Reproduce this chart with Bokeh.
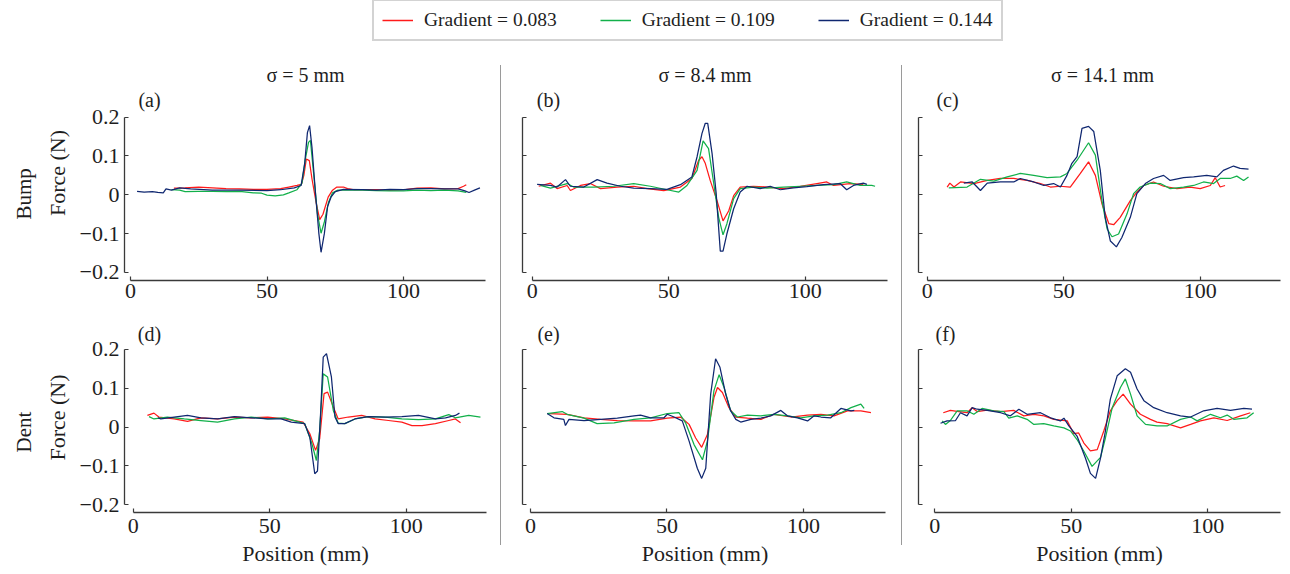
from bokeh.plotting import figure
from bokeh.models import Range1d, FixedTicker, Label, Title, Legend, LegendItem, Div
from bokeh.layouts import row, column
from bokeh.embed import file_html
from bokeh.resources import INLINE

# ---------------- data ----------------
gradients = ["Gradient = 0.083", "Gradient = 0.109", "Gradient = 0.144"]
sigma_titles = ["σ = 5 mm", "σ = 8.4 mm", "σ = 14.1 mm"]
row_names = ["Bump", "Dent"]
panel_letters = [["(a)", "(b)", "(c)"], ["(d)", "(e)", "(f)"]]
x_ticks = [0, 50, 100]
x_tick_labels = ["0", "50", "100"]
y_ticks = [-0.2, -0.1, 0, 0.1, 0.2]
y_tick_labels = ["−0.2", "−0.1", "0", "0.1", "0.2"]

a_red = [(15.9,0.017),(20,0.018),(25,0.02),(30,0.018),(35,0.016),(40,0.015),(45,0.014),(50,0.014),(55,0.016),(58,0.02),(61,0.024),(62.6,0.027),(63.5,0.05),(64.4,0.092),(65.5,0.088),(66.5,0.04),(68,-0.02),(69.3,-0.064),(70.5,-0.05),(72.4,-0.006),(74,0.012),(75.6,0.02),(78,0.02),(79.5,0.016),(82,0.013),(90,0.013),(95,0.012),(100,0.013),(105,0.017),(110,0.018),(115,0.015),(120,0.016),(122,0.022),(123,0.026)]
a_green = [(15,0.013),(18,0.012),(20,0.008),(25,0.009),(30,0.009),(35,0.008),(40,0.009),(45,0.005),(48,0.004),(50,-0.001),(53,-0.003),(56,0.0),(58,0.005),(61,0.013),(62.8,0.03),(64,0.09),(65.2,0.135),(65.9,0.14),(67,0.06),(68.5,-0.05),(69.8,-0.099),(71,-0.07),(72.5,-0.02),(74,0.005),(76,0.012),(80,0.012),(85,0.012),(90,0.011),(95,0.01),(100,0.01),(105,0.012),(110,0.011),(115,0.012),(120,0.01),(123,0.006)]
a_blue = [(2.4,0.009),(5,0.007),(8,0.008),(10,0.006),(12,0.005),(13,0.015),(15,0.012),(18,0.018),(22,0.015),(30,0.012),(40,0.012),(50,0.011),(55,0.013),(60,0.018),(62.5,0.024),(63.8,0.08),(64.8,0.16),(65.6,0.178),(66.5,0.12),(67.8,0.0),(69,-0.1),(69.8,-0.148),(71,-0.1),(72.2,-0.03),(73.5,-0.005),(75,0.008),(78,0.014),(85,0.013),(90,0.012),(95,0.014),(100,0.013),(105,0.016),(110,0.016),(115,0.015),(120,0.015),(122.5,0.01),(124,0.006),(126,0.012),(128,0.018)]

b_red = [(2.4,0.022),(6.7,0.03),(9.1,0.016),(12.8,0.024),(14,0.011),(17.7,0.024),(21.3,0.029),(25,0.016),(31.1,0.02),(37.2,0.022),(42.1,0.016),(48.2,0.011),(54.3,0.02),(58.5,0.042),(61,0.089),(62.2,0.098),(63.4,0.081),(65.2,0.037),(67.7,-0.015),(69.9,-0.067),(72,-0.041),(73.8,-0.002),(76.2,0.02),(81.1,0.022),(86,0.02),(92.1,0.016),(98.2,0.022),(104.3,0.029),(107.9,0.033),(110.4,0.024),(116.5,0.029),(121.3,0.027)]
b_green = [(3,0.024),(6.7,0.017),(12.8,0.029),(15.2,0.02),(22.6,0.02),(29.9,0.022),(37.2,0.029),(43.3,0.022),(49.4,0.013),(53.7,0.007),(56.7,0.024),(60.4,0.063),(62.6,0.139),(64.6,0.119),(66.5,0.029),(68.3,-0.058),(69.9,-0.103),(71.3,-0.075),(73.8,-0.01),(76.2,0.016),(81.1,0.02),(86,0.017),(92.1,0.02),(98.2,0.022),(104.3,0.024),(110.4,0.026),(115.2,0.033),(120.1,0.024),(124.4,0.024),(125.6,0.022)]
b_blue = [(1.8,0.027),(6.7,0.024),(9.1,0.02),(12.2,0.039),(14,0.022),(18.9,0.02),(23.8,0.039),(27.4,0.03),(32.3,0.022),(37.2,0.017),(43.3,0.016),(49.4,0.014),(54.3,0.026),(58.5,0.046),(60.4,0.098),(62.2,0.158),(63.4,0.184),(64.3,0.184),(65.9,0.106),(67.4,0.003),(68.9,-0.145),(69.9,-0.145),(71.3,-0.101),(73.8,-0.036),(76.2,0.007),(78.7,0.022),(83.5,0.016),(87.2,0.022),(90.9,0.013),(95.7,0.018),(100.6,0.021),(106.7,0.026),(112.8,0.029),(115.2,0.013),(117.7,0.024),(121.3,0.03),(122.6,0.027)]

c_red = [(7.3,0.02),(8.3,0.03),(9.8,0.02),(12.2,0.033),(17.1,0.029),(22,0.037),(26.8,0.042),(31.7,0.042),(36.6,0.037),(41.5,0.029),(45.1,0.02),(48.8,0.022),(52.4,0.02),(56.1,0.055),(59.1,0.085),(61.6,0.05),(64,-0.023),(66.5,-0.074),(68.3,-0.077),(70.7,-0.058),(74.4,-0.015),(76.8,0.007),(79.3,0.024),(82.9,0.033),(86.6,0.022),(91.5,0.016),(96.3,0.02),(100,0.016),(103.7,0.024),(105.5,0.044),(107.3,0.02),(109.1,0.024)]
c_green = [(7.9,0.018),(14.6,0.02),(19.5,0.04),(24.4,0.035),(29.3,0.046),(34.1,0.055),(39,0.05),(43.9,0.044),(48.8,0.046),(51.2,0.055),(54.9,0.089),(59.1,0.134),(61.6,0.102),(64,-0.015),(65.9,-0.088),(67.7,-0.108),(70.1,-0.101),(73.2,-0.049),(75.6,0.003),(78,0.02),(81.7,0.03),(85.4,0.029),(89,0.016),(93.9,0.02),(97.6,0.024),(101.2,0.033),(104.9,0.029),(107.3,0.042),(111,0.042),(113.4,0.048),(115.9,0.037),(117.7,0.046)]
c_blue = [(13.4,0.03),(16.5,0.033),(19.5,0.011),(22,0.03),(26.8,0.033),(31.7,0.033),(34.1,0.042),(39,0.033),(42.7,0.024),(46.3,0.029),(48.8,0.02),(51.2,0.05),(53,0.081),(54.9,0.098),(56.7,0.171),(59.1,0.176),(61,0.163),(63.4,0.063),(65.2,-0.058),(67.1,-0.119),(69.3,-0.134),(71.3,-0.11),(74.4,-0.058),(76.8,0.003),(79.9,0.029),(82.9,0.042),(86.6,0.05),(89,0.037),(93.9,0.044),(97.6,0.046),(102.4,0.05),(106.1,0.046),(108.5,0.063),(112.2,0.074),(114.6,0.068),(117.7,0.066)]

d_red = [(5.2,0.03),(7.6,0.036),(9.4,0.026),(15,0.021),(19.9,0.015),(24.8,0.024),(30.9,0.021),(37.1,0.026),(43.2,0.024),(49.3,0.026),(55.5,0.021),(62.2,0.013),(64.7,-0.017),(66.8,-0.06),(68.3,-0.03),(69.9,0.086),(71.2,0.09),(73.3,0.052),(75.1,0.021),(78.8,0.026),(83.7,0.03),(88.6,0.021),(93.5,0.017),(98.4,0.013),(102.1,0.004),(105.8,0.004),(110.7,0.009),(115.6,0.017),(118,0.021),(119.9,0.011)]
d_green = [(5.8,0.027),(7.6,0.021),(12.5,0.026),(18.7,0.021),(24.8,0.017),(30.9,0.013),(37.1,0.021),(43.2,0.026),(49.3,0.021),(55.5,0.024),(62.8,0.009),(65.3,-0.039),(67.1,-0.086),(68.3,-0.009),(69.6,0.137),(71.2,0.129),(73.3,0.043),(75.1,0.01),(77.5,0.009),(81.2,0.021),(86.1,0.027),(92.3,0.026),(98.4,0.021),(104.5,0.019),(110.7,0.021),(115.6,0.032),(118,0.024),(122.9,0.03),(127.2,0.026)]
d_blue = [(9,0.024),(10.1,0.021),(19.9,0.03),(24.8,0.024),(30.9,0.021),(37.1,0.027),(43.2,0.024),(49.3,0.021),(54.2,0.021),(57.9,0.013),(62.8,0.009),(64.7,-0.026),(66.5,-0.12),(67.5,-0.113),(68.7,0.043),(69.6,0.18),(70.8,0.189),(72.6,0.129),(73.9,0.026),(75.1,0.009),(77.5,0.009),(81.2,0.021),(86.1,0.027),(92.3,0.026),(98.4,0.027),(104.5,0.03),(110.7,0.021),(114.4,0.024),(118,0.03),(119.5,0.036)]

e_red = [(7,0.035),(13.4,0.033),(19.6,0.024),(25.7,0.02),(31.8,0.017),(37.9,0.016),(44,0.016),(50.1,0.023),(55,0.026),(58.1,0.007),(60.5,-0.028),(62.7,-0.052),(64.8,-0.019),(67.2,0.076),(68.5,0.102),(70.3,0.089),(72.7,0.05),(75.2,0.026),(79.5,0.023),(84.4,0.02),(89.2,0.033),(95.4,0.026),(101.5,0.031),(106.4,0.033),(111.2,0.029),(116.1,0.042),(121,0.042),(124.7,0.037)]
e_green = [(6.1,0.035),(11.6,0.04),(13.4,0.033),(19.6,0.023),(24.4,0.009),(30.6,0.011),(37.9,0.02),(44,0.024),(50.1,0.035),(54.4,0.037),(56.8,0.011),(59.9,-0.045),(63,-0.084),(64.8,-0.036),(67.2,0.094),(69.1,0.135),(70.9,0.102),(73.3,0.042),(75.8,0.026),(79.5,0.031),(84.4,0.029),(89.2,0.033),(94.1,0.029),(99,0.024),(103.9,0.029),(108.8,0.031),(113.7,0.037),(117.4,0.05),(121,0.059),(122.2,0.048)]
e_blue = [(6.1,0.035),(8.6,0.024),(12.2,0.02),(12.8,0.004),(14.1,0.02),(19.6,0.017),(25.7,0.02),(31.8,0.023),(37.9,0.029),(40.3,0.031),(44,0.024),(48.9,0.024),(50.1,0.033),(52.6,0.026),(55.6,0.016),(58.1,-0.036),(61.1,-0.106),(62.7,-0.132),(64.2,-0.106),(66,0.085),(67.8,0.176),(69.4,0.154),(71.5,0.085),(73.3,0.042),(75.2,0.02),(77,0.013),(80.7,0.02),(84.4,0.023),(88,0.029),(91.7,0.043),(94.1,0.029),(97.8,0.024),(101.5,0.016),(103.9,0.029),(106.4,0.026),(110,0.024),(113.7,0.048),(117.4,0.042),(118.6,0.043)]

f_red = [(3.1,0.037),(5.7,0.043),(8.8,0.04),(11.8,0.037),(13.7,0.05),(15.5,0.04),(19.2,0.044),(24.1,0.04),(28.9,0.043),(32.6,0.029),(36.3,0.033),(40,0.029),(43.6,0.02),(48.5,0.016),(50.9,-0.017),(52.7,-0.015),(54.6,-0.041),(57,-0.061),(59.5,-0.058),(61.9,-0.01),(64.3,0.042),(66.8,0.068),(69,0.085),(71.7,0.059),(75.3,0.033),(79,0.02),(81.4,0.013),(85.1,0.009),(90,-0.002),(93.7,0.007),(97.3,0.016),(102.2,0.024),(107.1,0.017),(112,0.029),(115.6,0.037)]
f_green = [(2.7,0.016),(3.9,0.007),(5.7,0.017),(8.2,0.042),(11.8,0.042),(14.3,0.033),(17.3,0.048),(21.6,0.042),(25.3,0.04),(27.1,0.023),(30.2,0.029),(33.8,0.02),(36.3,0.007),(39.9,0.009),(43.6,0.003),(47.3,-0.002),(49.7,-0.01),(52.1,-0.032),(54.6,-0.062),(57.6,-0.101),(60.7,-0.078),(62.5,-0.028),(65,0.05),(68,0.102),(69.8,0.124),(71.7,0.085),(74.1,0.029),(77.2,0.007),(81.4,0.003),(85.1,0.003),(90,0.02),(93.7,0.026),(96.1,0.016),(101,0.033),(104.6,0.024),(107.1,0.031),(109.5,0.02),(114.4,0.024),(116.8,0.037)]
f_blue = [(2.1,0.01),(4.5,0.016),(7.6,0.017),(9.4,0.037),(11.8,0.029),(13.7,0.05),(15.5,0.046),(19.2,0.043),(24.1,0.037),(27.7,0.029),(30.8,0.046),(33.8,0.033),(38.7,0.037),(42.4,0.024),(46,0.016),(47.3,0.023),(49.1,0.003),(52.1,-0.023),(55.2,-0.08),(57,-0.119),(58.9,-0.132),(60.7,-0.08),(62.5,-0.01),(64.3,0.072),(66.8,0.132),(69.8,0.15),(71.7,0.141),(74.1,0.098),(76.6,0.068),(80.2,0.05),(85.1,0.037),(90,0.029),(93.7,0.026),(98.5,0.042),(103.4,0.048),(108.3,0.043),(113.2,0.048),(116.2,0.046)]

panels = [[(a_red, a_green, a_blue), (b_red, b_green, b_blue), (c_red, c_green, c_blue)],
          [(d_red, d_green, d_blue), (e_red, e_green, e_blue), (f_red, f_green, f_blue)]]

# ---------------- style / layout ----------------
SERIF = "Liberation Serif"
COLORS = ["#ff1a1a", "#12b04a", "#0f2770"]
AXIS_COLOR = "#3a3a3a"
TEXT_COLOR = "#1e1e1e"
PX_PER_MM = 2.73
PX_PER_N = 388.5
col_cfg = [dict(width=500, left=124, frame=362, title_dx=0, letter_dx=[25, 25]),
           dict(width=400, left=21, frame=365, title_dx=0, letter_dx=[26, 26]),
           dict(width=380, left=16, frame=362, title_dx=3, letter_dx=[29, 27])]
row_cfg = [dict(height=257, frame=215, y0=-0.2206, letter_dy=34, tick_standoff=3),
           dict(height=250, frame=190, y0=-0.2198, letter_dy=11, tick_standoff=6)]
x_starts = [[-2.2, -3.55, -3.19], [-3.19, -2.93, -5.97]]


def make_panel(r, c):
    cc, rc = col_cfg[c], row_cfg[r]
    xs = x_starts[r][c]
    p = figure(width=cc["width"], height=rc["height"], output_backend="svg",
               toolbar_location=None,
               x_range=Range1d(xs, xs + cc["frame"] / PX_PER_MM),
               y_range=Range1d(rc["y0"], rc["y0"] + rc["frame"] / PX_PER_N),
               min_border_left=cc["left"],
               min_border_right=cc["width"] - cc["left"] - cc["frame"],
               min_border_top=0,
               min_border_bottom=rc["height"] - rc["frame"])
    p.outline_line_color = None
    p.xgrid.visible = False
    p.ygrid.visible = False
    p.background_fill_color = "white"
    p.border_fill_color = "white"

    for series, color in zip(panels[r][c], COLORS):
        xv = [pt[0] for pt in series]
        yv = [pt[1] for pt in series]
        p.line(xv, yv, line_color=color, line_width=1.25)

    xa = p.xaxis[0]
    xa.ticker = FixedTicker(ticks=x_ticks)
    xa.major_label_overrides = dict(zip(x_ticks, x_tick_labels))
    xa.bounds = (0, 130)
    ya = p.yaxis[0]
    ya.ticker = FixedTicker(ticks=y_ticks)
    ya.bounds = (-0.2, 0.2)
    if c == 0:
        ya.major_label_overrides = dict(zip(y_ticks, y_tick_labels))
        ya.axis_label = "Force (N)"
    else:
        ya.major_label_overrides = {t: "" for t in y_ticks}
    for ax in (xa, ya):
        ax.axis_line_color = AXIS_COLOR
        ax.axis_line_width = 1.3
        ax.major_tick_line_color = AXIS_COLOR
        ax.major_tick_line_width = 1.2
        ax.major_tick_in = 4
        ax.major_tick_out = 0
        ax.minor_tick_in = 0
        ax.minor_tick_out = 0
        ax.major_label_text_font = SERIF
        ax.major_label_text_font_size = "22px"
        ax.major_label_text_color = TEXT_COLOR
        ax.axis_label_text_font = SERIF
        ax.axis_label_text_font_size = "22px"
        ax.axis_label_text_font_style = "normal"
        ax.axis_label_text_color = TEXT_COLOR
    xa.major_label_standoff = rc["tick_standoff"]
    ya.major_label_standoff = 5
    ya.axis_label_standoff = 7
    if r == 1:
        xa.axis_label = "Position (mm)"
        xa.axis_label_standoff = 5

    if c == 0:
        p.add_layout(Title(text=row_names[r], align="left", offset=61 if r == 0 else 60,
                           text_font=SERIF, text_font_size="21px",
                           text_font_style="normal", text_color=TEXT_COLOR,
                           standoff=11), "left")

    if r == 0:
        p.add_layout(Label(x=cc["frame"] / 2 + cc["title_dx"], y=rc["frame"] - 9,
                           x_units="screen", y_units="screen",
                           text=sigma_titles[c], text_align="center",
                           text_baseline="middle", text_font=SERIF,
                           text_font_size="20px", text_color=TEXT_COLOR))
    p.add_layout(Label(x=cc["letter_dx"][r], y=rc["frame"] - rc["letter_dy"],
                       x_units="screen", y_units="screen",
                       text=panel_letters[r][c], text_align="center",
                       text_baseline="middle", text_font=SERIF,
                       text_font_size="20px", text_color=TEXT_COLOR))
    return p


# legend strip
lf = figure(width=1282, height=65, output_backend="svg", toolbar_location=None,
            x_range=Range1d(0, 1), y_range=Range1d(0, 1),
            x_axis_type=None, y_axis_type=None, min_border=0)
lf.outline_line_color = None
lf.xgrid.visible = False
lf.ygrid.visible = False
items = []
for color, lab in zip(COLORS, gradients):
    rr = lf.line(x=[float("nan")], y=[float("nan")], line_color=color, line_width=1.5)
    items.append(LegendItem(label=lab, renderers=[rr]))
legend = Legend(items=items, orientation="horizontal", location=(372, 24),
                padding=8, spacing=43, glyph_width=31, label_standoff=11,
                margin=0, label_text_font=SERIF, label_text_font_size="19.5px",
                label_text_color=TEXT_COLOR,
                border_line_color="#a8a8a8", border_line_width=2,
                background_fill_color="white", background_fill_alpha=1.0)
lf.add_layout(legend, "center")

cols = []
for c in range(3):
    cols.append(column(make_panel(0, c), make_panel(1, c)))


def separator():
    return Div(text="", width=1, height=480, margin=0,
               styles={"background-color": "#9a9a9a"})


layout = column(lf, row(cols[0], separator(), cols[1], separator(), cols[2]))

open("out.html", "w").write(file_html(layout, INLINE))
